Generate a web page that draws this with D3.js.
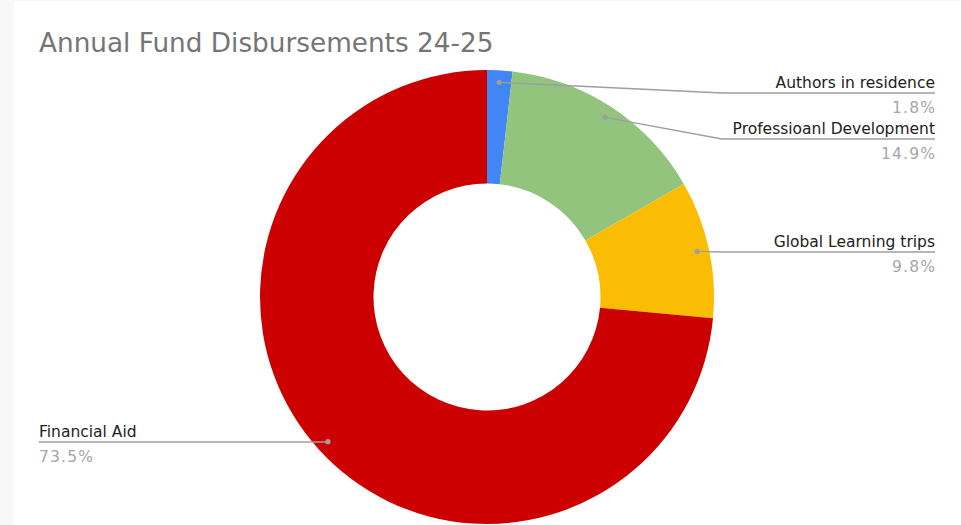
<!DOCTYPE html>
<html><head><meta charset="utf-8">
<script src="https://cdn.jsdelivr.net/npm/d3@7"></script>
<style>
html,body{margin:0;padding:0;background:#f8f8f8;}
svg{display:block;}
</style></head>
<body>
<svg id="chart" width="961" height="525"></svg>
<script>
const title = "Annual Fund Disbursements 24-25";
const categories = ["Authors in residence", "Professioanl Development", "Global Learning trips", "Financial Aid"];
const values = [1.8, 14.9, 9.8, 73.5];
const colors = ["#4285f4", "#93c47d", "#fbbc04", "#cc0000"];

const W = 961, H = 525;
const svg = d3.select("#chart");
svg.append("rect").attr("x", 14).attr("y", 1).attr("width", W - 14).attr("height", H - 1).attr("fill", "#ffffff");

svg.append("text").attr("x", 39).attr("y", 52)
  .attr("font-family", "DejaVu Sans").attr("font-size", 26.3).attr("fill", "#757575")
  .text(title);

const cx = 487, cy = 297, R = 227, r0 = 113.5;
const g = svg.append("g").attr("transform", `translate(${cx},${cy})`);
const pie = d3.pie().sort(null).value(d => d.v);
const data = categories.map((c, i) => ({c, v: values[i], col: colors[i]}));
const arcs = pie(data);
const arc = d3.arc().innerRadius(r0).outerRadius(R);
g.selectAll("path.slice").data(arcs).join("path").attr("class", "slice")
  .attr("d", arc).attr("fill", d => d.data.col);

const total = d3.sum(values);
const rDot = 215;
const labelY = [93, 139, 252, 442];
const rightX = 935, leftX = 39, elbowR = 722, elbowL = 328;
arcs.forEach((a, i) => {
  const m = (a.startAngle + a.endAngle) / 2;
  const px = Math.sin(m) * rDot, py = -Math.cos(m) * rDot;
  const right = Math.sin(m) > 0;
  const ly = labelY[i] - cy;
  const ex = (right ? elbowR : elbowL) - cx;
  const endX = (right ? rightX : leftX) - cx;
  const pts = right ? [[px, py], [Math.max(ex, px), ly], [endX, ly]] : [[px, py], [Math.min(ex, px), ly], [endX, ly]];
  g.append("path").attr("d", d3.line()(pts)).attr("fill", "none").attr("stroke", "#9e9e9e").attr("stroke-width", 1.3);
  g.append("circle").attr("cx", px).attr("cy", py).attr("r", 2.6).attr("fill", "#9e9e9e");
  const tx = endX;
  const anchor = right ? "end" : "start";
  g.append("text").attr("x", tx).attr("y", ly - 5).attr("text-anchor", anchor)
    .attr("font-family", "DejaVu Sans").attr("font-size", 15.5).attr("fill", "#212121")
    .text(a.data.c);
  g.append("text").attr("x", right ? tx + 1.2 : tx).attr("y", ly + 20).attr("text-anchor", anchor)
    .attr("font-family", "DejaVu Sans").attr("font-size", 15.5).attr("fill", "#a6a6a6")
    .attr("letter-spacing", 1.2)
    .text(d3.format(".1f")(a.data.v / total * 100) + "%");
});
</script>
</body></html>
